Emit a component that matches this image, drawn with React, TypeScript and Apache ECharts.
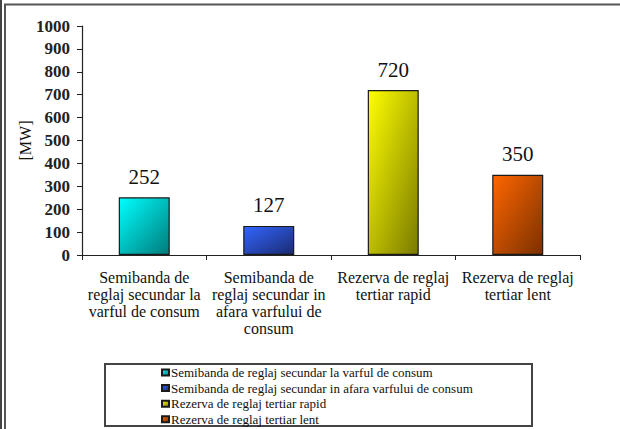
import React, { useEffect, useRef } from "react";
import * as echarts from "echarts";

const categories = [
  "Semibanda de reglaj secundar la varful de consum",
  "Semibanda de reglaj secundar in afara varfului de consum",
  "Rezerva de reglaj tertiar rapid",
  "Rezerva de reglaj tertiar lent",
];
const categoryLabels = [
  "Semibanda de\nreglaj secundar la\nvarful de consum",
  "Semibanda de\nreglaj secundar in\nafara varfului de\nconsum",
  "Rezerva de reglaj\ntertiar rapid",
  "Rezerva de reglaj\ntertiar lent",
];
const values = [252, 127, 720, 350];
const colorsLight = ["#00FFFF", "#3366FF", "#FFFF00", "#FF6600"];
const colorsDark = ["#007A7A", "#1A2A70", "#7A7A00", "#7A3000"];
const yTicks = { min: 0, max: 1000, interval: 100 };
const yName = "[MW]";

const FONT = "Times New Roman";

export default function App() {
  const ref = useRef<HTMLDivElement>(null);
  useEffect(() => {
    if (!ref.current) return;
    const chart = echarts.init(ref.current, null, { renderer: "svg" });
    const series = categories.map((name, i) => ({
      name,
      type: "bar",
      barWidth: 51,
      barGap: "-100%",
      data: values.map((v, j) => (j === i ? v : "-")),
      itemStyle: {
        color: new echarts.graphic.LinearGradient(0, 0, 1, 1, [
          { offset: 0, color: colorsLight[i] },
          { offset: 1, color: colorsDark[i] },
        ]),
        borderColor: "#1a1a1a",
        borderWidth: 1.2,
      },
      label: {
        show: true,
        position: "top",
        distance: 10,
        fontFamily: FONT,
        fontSize: 21,
        color: "#111",
      },
    }));
    chart.setOption({
      animation: false,
      backgroundColor: "#fff",
      textStyle: { fontFamily: FONT },
      grid: { left: 82, right: 40, top: 26, bottom: 174, containLabel: false },
      xAxis: {
        type: "category",
        data: categories,
        axisLine: { lineStyle: { color: "#222", width: 1.2 } },
        axisTick: { show: true, length: 5, lineStyle: { color: "#222" } },
        axisLabel: {
          interval: 0,
          margin: 14,
          fontFamily: FONT,
          fontSize: 16,
          lineHeight: 17,
          color: "#111",
          formatter: (_v: string, idx: number) => categoryLabels[idx],
        },
      },
      yAxis: {
        type: "value",
        min: yTicks.min,
        max: yTicks.max,
        interval: yTicks.interval,
        name: yName,
        nameLocation: "middle",
        nameGap: 49,
        nameMoveOverlap: false,
        nameRotate: 90,
        nameTextStyle: { fontFamily: FONT, fontSize: 16, color: "#111" },
        splitLine: { show: false },
        axisLine: { show: true, lineStyle: { color: "#222", width: 1.2 } },
        axisTick: { show: true, length: 5, lineStyle: { color: "#222" } },
        axisLabel: {
          margin: 12,
          fontFamily: FONT,
          fontSize: 17,
          fontWeight: "bold",
          color: "#222",
          formatter: (v: number) => String(v),
        },
      },
      legend: {
        orient: "vertical",
        left: 161,
        top: 366,
        padding: 0,
        itemWidth: 7,
        itemHeight: 6,
        itemGap: 2.6,
        icon: "rect",
        textStyle: {
          fontFamily: FONT,
          fontSize: 13,
          lineHeight: 13,
          color: "#111",
          padding: [0, 0, 0, -3],
        },
        data: categories,
      },
      graphic: [
        { type: "line", shape: { x1: 1, y1: 0, x2: 1, y2: 429 }, style: { stroke: "#444", lineWidth: 2 } },
        { type: "line", shape: { x1: 5, y1: 4, x2: 5, y2: 429 }, style: { stroke: "#555", lineWidth: 2 } },
        { type: "line", shape: { x1: 4, y1: 4.5, x2: 620, y2: 4.5 }, style: { stroke: "#555", lineWidth: 2 } },
        {
          type: "rect",
          shape: { x: 105, y: 364, width: 427, height: 62 },
          style: { fill: "none", stroke: "#444", lineWidth: 2 },
          z: -1,
        },
      ],
      series,
    });
    return () => chart.dispose();
  }, []);
  return <div ref={ref} style={{ width: 620, height: 429, position: "fixed", left: 0, top: 0 }} />;
}
